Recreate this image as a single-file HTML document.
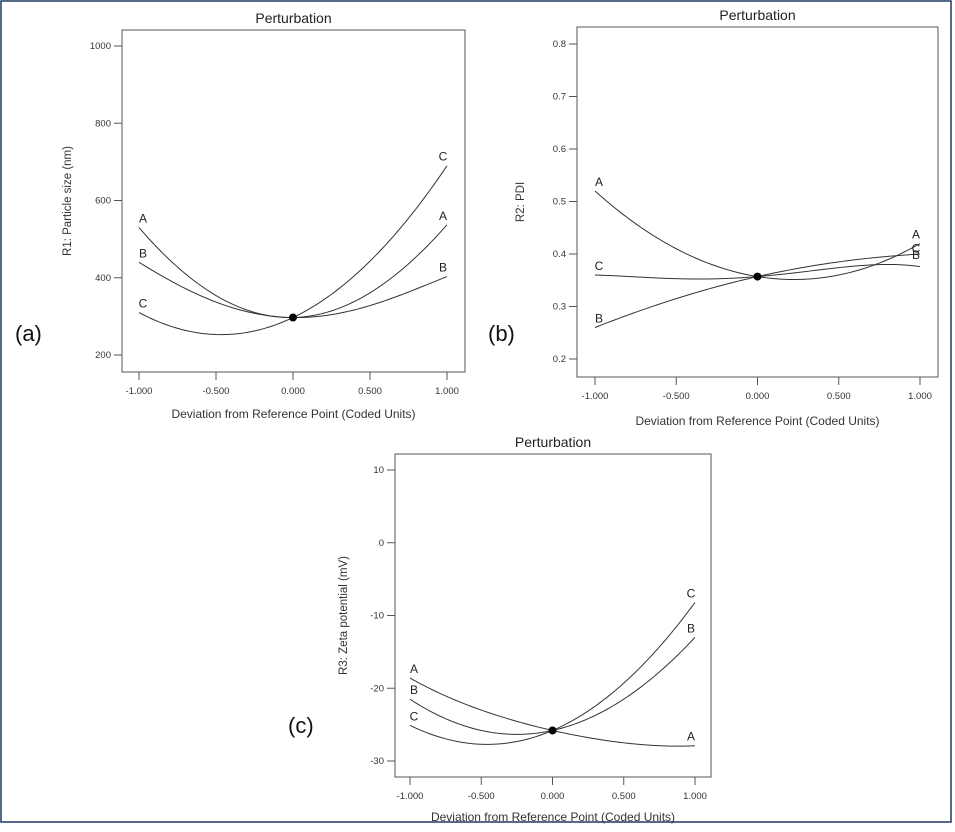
<!DOCTYPE html>
<html><head><meta charset="utf-8"><style>
html,body{margin:0;padding:0;background:#fff;}
svg{display:block;font-family:"Liberation Sans","DejaVu Sans",sans-serif;}
</style></head><body>
<svg id="fig" width="955" height="832" viewBox="0 0 955 832" xmlns="http://www.w3.org/2000/svg">
<rect x="1" y="1" width="950" height="821" fill="none" stroke="#1f3864" stroke-width="1.5"/>
</svg>
<script>
// shared x positions (coded units)
const xs = [-1, -0.5, 0, 0.5, 1];
const xTicks = [-1, -0.5, 0, 0.5, 1];
const xTickLabels = ["-1.000", "-0.500", "0.000", "0.500", "1.000"];

// Panel (a) R1: Particle size
const aA = [530, 354, 297, 361, 537];
const aB = [440, 337, 297, 328, 403];
const aC = [310, 253, 297, 443, 690];
const aYTicks = [200, 400, 600, 800, 1000];
const aRef = 297;

// Panel (b) R2: PDI
const bA = [0.52, 0.41, 0.357, 0.36, 0.42];
const bB = [0.26, 0.315, 0.357, 0.385, 0.40];
const bC = [0.36, 0.353, 0.357, 0.374, 0.376];
const bYTicks = [0.2, 0.3, 0.4, 0.5, 0.6, 0.7, 0.8];
const bRef = 0.357;

// Panel (c) R3: Zeta potential
const cA = [-18.6, -23.0, -25.8, -27.5, -27.9];
const cB = [-21.5, -25.8, -25.8, -21.5, -13.0];
const cC = [-25.1, -27.7, -25.8, -19.3, -8.2];
const cYTicks = [-30, -20, -10, 0, 10];
const cRef = -25.8;

const NS = "http://www.w3.org/2000/svg";
const svg = document.getElementById("fig");
function mk(tag, attrs, parent) {
  const e = document.createElementNS(NS, tag);
  for (const k in attrs) e.setAttribute(k, attrs[k]);
  (parent || svg).appendChild(e);
  return e;
}
function lagrange(vals, x) {
  let s = 0;
  for (let i = 0; i < xs.length; i++) {
    let p = 1;
    for (let j = 0; j < xs.length; j++) if (j !== i) p *= (x - xs[j]) / (xs[i] - xs[j]);
    s += vals[i] * p;
  }
  return s;
}

function panel(cfg) {
  const g = mk("g", {});
  
  
  const sx = v => cfg.x0 + (v + 1) / 2 * (cfg.x1 - cfg.x0);
  const sy = v => cfg.yTop + (cfg.yMax - v) / (cfg.yMax - cfg.yMin) * (cfg.yBot - cfg.yTop);
  const box = mk("rect", {x: cfg.bx0, y: cfg.by0, width: cfg.bx1 - cfg.bx0, height: cfg.by1 - cfg.by0, fill: "none", stroke: "#555", "stroke-width": 1}, g);
  
  
  const t = mk("text", {x: (cfg.bx0 + cfg.bx1) / 2, y: cfg.by0 - 7, "text-anchor": "middle", "font-size": 14, fill: "#222"}, g);
  t.textContent = "Perturbation";
  
  
  cfg.yTicks.forEach(v => {
    const y = sy(v);
    const l = mk("line", {x1: cfg.bx0 - 8, x2: cfg.bx0, y1: y, y2: y, stroke: "#555"}, g);
    
    
    const tx = mk("text", {x: cfg.bx0 - 11, y: y + 3, "text-anchor": "end", "font-size": 9.5, fill: "#333"}, g);
    tx.textContent = String(v);
    
    
  });
  xTicks.forEach((v, i) => {
    const x = sx(v);
    const l = mk("line", {x1: x, x2: x, y1: cfg.by1, y2: cfg.by1 + 8, stroke: "#555"}, g);
    
    
    const tx = mk("text", {x: x, y: cfg.by1 + 22, "text-anchor": "middle", "font-size": 9.5, fill: "#333"}, g);
    tx.textContent = xTickLabels[i];
    
    
  });
  const xt = mk("text", {x: (cfg.bx0 + cfg.bx1) / 2, y: cfg.xTitleY, "text-anchor": "middle", "font-size": 12, fill: "#333"}, g);
  xt.textContent = "Deviation from Reference Point (Coded Units)";
  
  
  const yt = mk("text", {x: 0, y: 0, "text-anchor": "middle", "font-size": 11.5, fill: "#333", transform: `translate(${cfg.yTitleX},${(cfg.by0 + cfg.by1) / 2}) rotate(-90)`}, g);
  yt.textContent = cfg.yTitle;
  
  
  const pl = mk("text", {x: cfg.plx, y: cfg.ply, "font-size": 22, fill: "#111"}, g);
  pl.textContent = cfg.panelLabel;
  
  
  cfg.series.forEach(s => {
    let d = "";
    for (let k = 0; k <= 100; k++) {
      const xv = -1 + 2 * k / 100;
      d += (k ? "L" : "M") + sx(xv).toFixed(2) + "," + sy(lagrange(s.vals, xv)).toFixed(2);
    }
    const p = mk("path", {d: d, fill: "none", stroke: "#333", "stroke-width": 1}, g);
    
    
    const l1 = mk("text", {x: sx(-1) + 4, y: sy(s.vals[0]) - 5, "text-anchor": "middle", "font-size": 12, fill: "#222"}, g);
    l1.textContent = s.key;
    
    
    const l2 = mk("text", {x: sx(1) - 4, y: sy(s.vals[4]) - 5 + (s.dyR || 0), "text-anchor": "middle", "font-size": 12, fill: "#222"}, g);
    l2.textContent = s.key;
    
    
  });
  const dot = mk("circle", {cx: sx(0), cy: sy(cfg.ref), r: 4, fill: "#000"}, g);
  
  
}

panel({name: "panel-a-particle-size", bx0: 122, bx1: 465, by0: 30, by1: 372, x0: 139, x1: 447,
  yTop: 46, yBot: 355, yMax: 1000, yMin: 200, yTicks: aYTicks, ref: aRef,
  yTitle: "R1: Particle size (nm)", yTitleX: 71, xTitleY: 418, panelLabel: "(a)", plx: 15, ply: 341,
  series: [{key: "A", vals: aA}, {key: "B", vals: aB}, {key: "C", vals: aC}]});
panel({name: "panel-b-pdi", bx0: 577, bx1: 938, by0: 27, by1: 377, x0: 595, x1: 920,
  yTop: 44, yBot: 359, yMax: 0.8, yMin: 0.2, yTicks: bYTicks, ref: bRef,
  yTitle: "R2: PDI", yTitleX: 524, xTitleY: 425, panelLabel: "(b)", plx: 488, ply: 341,
  series: [{key: "A", vals: bA, dyR: 0}, {key: "B", vals: bB, dyR: 10}, {key: "C", vals: bC, dyR: -9}]});
panel({name: "panel-c-zeta-potential", bx0: 395, bx1: 711, by0: 454, by1: 777, x0: 410, x1: 695,
  yTop: 470, yBot: 761, yMax: 10, yMin: -30, yTicks: cYTicks, ref: cRef,
  yTitle: "R3: Zeta potential (mV)", yTitleX: 347, xTitleY: 821, panelLabel: "(c)", plx: 288, ply: 733,
  series: [{key: "A", vals: cA}, {key: "B", vals: cB}, {key: "C", vals: cC}]});
</script>
</body></html>
